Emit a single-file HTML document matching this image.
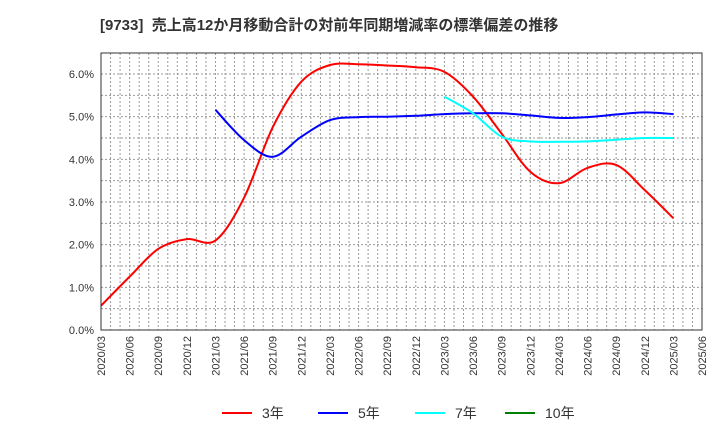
<!DOCTYPE html>
<html><head><meta charset="utf-8"><style>
body{margin:0;background:#fff;font-family:"Liberation Sans","Noto Sans CJK JP",sans-serif;}
</style></head><body>
<svg width="720" height="440" xmlns="http://www.w3.org/2000/svg" style="font-family:'Liberation Sans','Noto Sans CJK JP',sans-serif">
<text x="100" y="30" font-size="15" font-weight="bold" fill="#333">[9733]&#160;&#160;売上高12か月移動合計の対前年同期増減率の標準偏差の推移</text>
<g id="grid"></g><g id="axes"></g><g id="series"></g>
<rect x="101" y="53" width="601" height="277" fill="none" stroke="#333" stroke-width="1"/>
<g id="legend"></g>
</svg>
<script>
const xLabels=["2020/03","2020/06","2020/09","2020/12","2021/03","2021/06","2021/09","2021/12","2022/03","2022/06","2022/09","2022/12","2023/03","2023/06","2023/09","2023/12","2024/03","2024/06","2024/09","2024/12","2025/03","2025/06"];
const yTicks=[0,1,2,3,4,5,6];
const red3=[0.57,1.25,1.9,2.13,2.1,3.1,4.75,5.82,6.21,6.23,6.2,6.16,6.05,5.47,4.6,3.71,3.44,3.8,3.87,3.28,2.62];
const blue5=[null,null,null,null,5.16,4.45,4.06,4.53,4.92,4.99,5.0,5.02,5.06,5.08,5.08,5.03,4.97,4.99,5.05,5.1,5.06];
const cyan7=[null,null,null,null,null,null,null,null,null,null,null,null,5.47,5.08,4.53,4.42,4.41,4.42,4.46,4.5,4.5];
const green10=[];
const NS="http://www.w3.org/2000/svg";
const X0=101,X1=702,Y0=330,YT=74;
const xq=i=>X0+i*(X1-X0)/(xLabels.length-1);
const ys=v=>Y0-v*(Y0-YT)/6;
function mk(t,a,p){const e=document.createElementNS(NS,t);for(const k in a)e.setAttribute(k,a[k]);p.appendChild(e);return e;}
const grid=document.getElementById('grid'),axes=document.getElementById('axes'),ser=document.getElementById('series'),leg=document.getElementById('legend');
const nM=(xLabels.length-1)*3;
for(let m=1;m<nM;m++){const x=X0+m*(X1-X0)/nM;
const l=mk('line',{x1:x,x2:x,y1:53,y2:330,stroke:'#999','stroke-dasharray':'2,2','stroke-width':1},grid);

}
for(const v of [0.5,1,1.5,2,2.5,3,3.5,4,4.5,5,5.5,6,6.5]){const y=ys(v);if(y<53)continue;
const l=mk('line',{x1:X0,x2:X1,y1:y,y2:y,stroke:'#999','stroke-dasharray':'2,2','stroke-width':1},grid);

}
yTicks.forEach(v=>{const t=mk('text',{x:94,y:ys(v)+4,'text-anchor':'end','font-size':11,fill:'#333'},axes);t.textContent=v.toFixed(1)+'%';

});
xLabels.forEach((s,i)=>{const x=xq(i);const t=mk('text',{x:0,y:0,'text-anchor':'end','font-size':11,fill:'#333',transform:`translate(${x+4},336) rotate(-90)`},axes);t.textContent=s;

});
function line(arr,col,name){const pts=[];arr.forEach((v,i)=>{if(v!=null)pts.push([xq(i),ys(v)]);});
if(pts.length<2)return;
let d='M'+pts[0][0].toFixed(1)+','+pts[0][1].toFixed(1);
for(let i=0;i<pts.length-1;i++){const p0=pts[Math.max(0,i-1)],p1=pts[i],p2=pts[i+1],p3=pts[Math.min(pts.length-1,i+2)];
const c1=[p1[0]+(p2[0]-p0[0])/6,p1[1]+(p2[1]-p0[1])/6],c2=[p2[0]-(p3[0]-p1[0])/6,p2[1]-(p3[1]-p1[1])/6];
d+='C'+c1.map(n=>n.toFixed(1)).join(',')+' '+c2.map(n=>n.toFixed(1)).join(',')+' '+p2.map(n=>n.toFixed(1)).join(',');}
const p=mk('path',{d:d,fill:'none',stroke:col,'stroke-width':2,'stroke-linejoin':'round'},ser);

}
line(red3,'#ff0000','series-3y');line(blue5,'#0000ff','series-5y');line(cyan7,'#00ffff','series-7y');line(green10,'#008000','series-10y');
[["3年","#ff0000",222],["5年","#0000ff",318],["7年","#00ffff",415],["10年","#008000",505]].forEach(([n,c,x])=>{
const g=mk('g',{},leg);


mk('line',{x1:x,x2:x+30,y1:413,y2:413,stroke:c,'stroke-width':2},g);
const t=mk('text',{x:x+40,y:418,'font-size':14,fill:'#333'},g);t.textContent=n;});
</script>
</body></html>
